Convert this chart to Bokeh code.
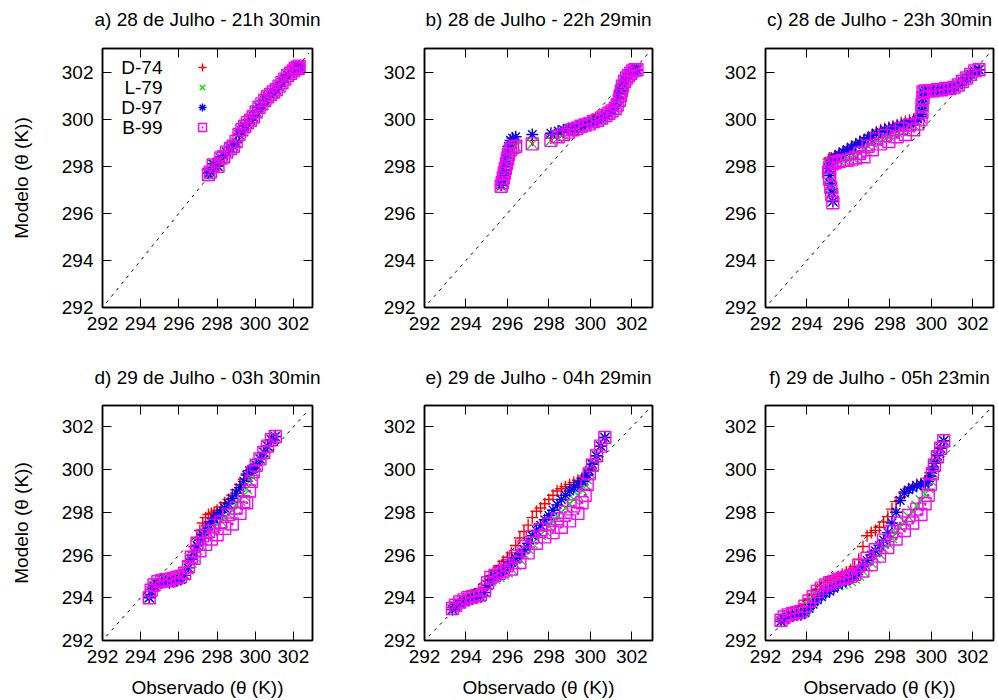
from bokeh.plotting import figure
from bokeh.layouts import row, column
from bokeh.models import LinearAxis, FixedTicker, Legend, LegendItem, Label, Range1d
from bokeh.core.properties import value
from bokeh.embed import file_html
from bokeh.resources import INLINE

FONT = "Liberation Sans"

# ---------------- data ----------------
tick_vals = [292, 294, 296, 298, 300, 302]
axis_range = [292, 303]
diag = [292.2, 302.8]

series_names = ["D-74", "L-79", "D-97", "B-99"]
series_markers = ["cross", "x", "asterisk", "square_dot"]
series_colors = ["#ff0000", "#00e600", "#0000ff", "#ff00ff"]
series_sizes = [12, 15, 12, 12]

titles = ["a) 28 de Julho - 21h 30min", "b) 28 de Julho - 22h 29min",
          "c) 28 de Julho - 23h 30min", "d) 29 de Julho - 03h 30min",
          "e) 29 de Julho - 04h 29min", "f) 29 de Julho - 05h 23min"]

# panel a
obs_a = [297.55, 297.65, 297.8, 298.05, 298.2, 298.35, 298.5, 298.7, 298.85, 299.0,
         299.15, 299.3, 299.45, 299.6, 299.75, 299.9, 300.05, 300.2, 300.35, 300.5,
         300.65, 300.8, 300.95, 301.1, 301.25, 301.4, 301.55, 301.7, 301.85, 302.0,
         302.1, 302.2, 302.25, 302.3]
d74_a = [297.7, 297.8, 298.1, 298.05, 298.4, 298.45, 298.65, 298.8, 298.9, 299.05,
         299.4, 299.55, 299.75, 299.85, 300.0, 300.15, 300.35, 300.55, 300.65, 300.85,
         301.0, 301.1, 301.15, 301.3, 301.45, 301.6, 301.75, 301.9, 302.0, 302.1,
         302.15, 302.2, 302.2, 302.25]
l79_a = [297.65, 297.75, 298.05, 298.0, 298.35, 298.4, 298.6, 298.75, 298.85, 299.0,
         299.35, 299.5, 299.7, 299.8, 299.95, 300.1, 300.3, 300.5, 300.6, 300.8,
         300.95, 301.05, 301.1, 301.25, 301.4, 301.55, 301.7, 301.85, 301.95, 302.05,
         302.1, 302.2, 302.15, 302.25]
d97_a = [297.7, 297.75, 298.1, 298.0, 298.35, 298.45, 298.6, 298.8, 298.85, 299.0,
         299.35, 299.5, 299.7, 299.8, 299.95, 300.1, 300.3, 300.5, 300.6, 300.8,
         300.95, 301.05, 301.1, 301.25, 301.4, 301.55, 301.7, 301.85, 301.95, 302.05,
         302.1, 302.2, 302.15, 302.25]
b99_a = [297.65, 297.75, 298.05, 298.0, 298.35, 298.4, 298.6, 298.75, 298.85, 299.05,
         299.35, 299.55, 299.7, 299.85, 299.95, 300.1, 300.3, 300.5, 300.65, 300.8,
         300.95, 301.05, 301.15, 301.25, 301.4, 301.55, 301.7, 301.85, 301.95, 302.05,
         302.15, 302.2, 302.15, 302.25]

# panel b
obs_b = [295.7, 295.75, 295.8, 295.85, 295.9, 295.95, 296.0, 296.05, 296.15, 296.25,
         296.4, 297.2, 298.1, 298.45, 298.7, 298.95, 299.15, 299.35, 299.55, 299.75,
         299.95, 300.15, 300.35, 300.55, 300.75, 300.9, 301.05, 301.2, 301.3, 301.4,
         301.45, 301.5, 301.55, 301.65, 301.75, 301.85, 301.95, 302.05, 302.15, 302.25]
d74_b = [297.2, 297.35, 297.55, 297.8, 298.0, 298.25, 298.45, 298.65, 298.85, 298.95,
         299.0, 299.1, 299.2, 299.35, 299.45, 299.55, 299.6, 299.7, 299.75, 299.85,
         299.9, 300.0, 300.1, 300.2, 300.3, 300.35, 300.45, 300.55, 300.7, 300.9,
         301.1, 301.3, 301.45, 301.6, 301.75, 301.85, 301.95, 302.05, 302.1, 302.1]
l79_b = [297.15, 297.3, 297.5, 297.7, 297.9, 298.1, 298.3, 298.5, 298.7, 298.8,
         298.85, 298.95, 299.1, 299.2, 299.35, 299.45, 299.5, 299.6, 299.65, 299.75,
         299.8, 299.85, 299.95, 300.0, 300.1, 300.2, 300.3, 300.45, 300.6, 300.8,
         301.0, 301.2, 301.4, 301.6, 301.75, 301.85, 301.95, 302.05, 302.1, 302.1]
d97_b = [297.2, 297.4, 297.6, 297.85, 298.1, 298.35, 298.6, 298.85, 299.1, 299.2,
         299.25, 299.35, 299.4, 299.5, 299.55, 299.6, 299.65, 299.7, 299.75, 299.8,
         299.85, 299.9, 300.0, 300.05, 300.15, 300.25, 300.4, 300.6, 300.85, 301.05,
         301.2, 301.35, 301.5, 301.65, 301.8, 301.9, 301.95, 302.05, 302.1, 302.1]
b99_b = [297.15, 297.3, 297.5, 297.7, 297.9, 298.1, 298.3, 298.5, 298.7, 298.8,
         298.85, 298.95, 299.1, 299.25, 299.35, 299.45, 299.55, 299.6, 299.7, 299.75,
         299.8, 299.9, 299.95, 300.05, 300.15, 300.25, 300.35, 300.45, 300.6, 300.8,
         301.0, 301.2, 301.4, 301.6, 301.75, 301.85, 301.95, 302.05, 302.1, 302.1]

# panel c
obs_c = [295.25, 295.2, 295.15, 295.1, 295.05, 295.1, 295.2, 295.35, 295.55, 295.75,
         295.95, 296.15, 296.35, 296.55, 296.75, 296.95, 297.15, 297.35, 297.55, 297.75,
         297.95, 298.15, 298.35, 298.55, 298.75, 298.95, 299.15, 299.35, 299.5, 299.55,
         299.55, 299.6, 299.6, 299.7, 299.9, 300.1, 300.3, 300.5, 300.7, 300.9,
         301.1, 301.3, 301.5, 301.7, 301.9, 302.1, 302.3]
d74_c = [298.2, 298.15, 298.25, 298.2, 298.3, 298.35, 298.3, 298.45, 298.55, 298.65,
         298.75, 298.85, 298.95, 299.05, 299.1, 299.2, 299.35, 299.45, 299.55, 299.6,
         299.65, 299.7, 299.75, 299.85, 299.9, 299.95, 300.0, 300.1, 300.2, 300.4,
         300.65, 300.9, 301.15, 301.2, 301.2, 301.2, 301.25, 301.25, 301.3, 301.3,
         301.35, 301.45, 301.6, 301.75, 301.9, 302.05, 302.1]
l79_c = [296.5, 296.85, 297.15, 297.5, 297.8, 298.0, 298.1, 298.2, 298.25, 298.3,
         298.35, 298.4, 298.45, 298.55, 298.7, 298.85, 299.0, 299.1, 299.2, 299.25,
         299.3, 299.4, 299.45, 299.5, 299.55, 299.65, 299.75, 299.85, 300.05, 300.3,
         300.6, 300.9, 301.15, 301.2, 301.2, 301.2, 301.25, 301.25, 301.3, 301.3,
         301.35, 301.45, 301.6, 301.75, 301.9, 302.05, 302.1]
d97_c = [296.5, 296.9, 297.25, 297.6, 297.9, 298.1, 298.25, 298.4, 298.5, 298.6,
         298.7, 298.8, 298.9, 299.0, 299.1, 299.2, 299.3, 299.4, 299.45, 299.55,
         299.6, 299.65, 299.7, 299.75, 299.8, 299.85, 299.9, 300.0, 300.1, 300.35,
         300.6, 300.9, 301.15, 301.2, 301.2, 301.2, 301.25, 301.25, 301.3, 301.3,
         301.35, 301.45, 301.6, 301.75, 301.9, 302.05, 302.1]
b99_c = [296.45, 296.8, 297.1, 297.45, 297.75, 297.95, 298.1, 298.15, 298.2, 298.25,
         298.25, 298.3, 298.35, 298.55, 298.4, 298.85, 298.7, 299.15, 298.95, 299.3,
         299.05, 299.45, 299.25, 299.6, 299.35, 299.75, 299.55, 299.8, 300.0, 300.3,
         300.6, 300.9, 301.15, 301.2, 301.2, 301.2, 301.25, 301.25, 301.3, 301.3,
         301.35, 301.45, 301.6, 301.75, 301.9, 302.05, 302.1]

# panel d
obs_d = [294.45, 294.55, 294.7, 294.9, 295.1, 295.3, 295.5, 295.7, 295.9, 296.1,
         296.3, 296.5, 296.65, 296.8, 296.95, 297.1, 297.25, 297.4, 297.55, 297.7,
         297.85, 298.0, 298.2, 298.4, 298.6, 298.8, 299.0, 299.2, 299.4, 299.55,
         299.7, 299.8, 299.9, 300.05, 300.25, 300.45, 300.65, 300.85, 301.05]
d74_d = [294.05, 294.4, 294.65, 294.8, 294.85, 294.9, 294.85, 294.95, 295.0, 295.1,
         295.3, 295.7, 296.0, 296.4, 296.8, 297.15, 297.5, 297.75, 297.9, 297.95,
         298.0, 298.1, 298.25, 298.45, 298.6, 298.8, 299.05, 299.3, 299.55, 299.8,
         299.95, 300.0, 300.05, 300.2, 300.5, 300.8, 301.1, 301.4, 301.55]
l79_d = [294.0, 294.3, 294.55, 294.7, 294.75, 294.8, 294.75, 294.8, 294.85, 294.9,
         295.05, 295.35, 295.65, 295.95, 296.25, 296.5, 296.7, 296.9, 297.05, 297.2,
         297.3, 297.45, 297.6, 297.75, 297.9, 298.1, 298.35, 298.55, 298.8, 299.1,
         299.45, 299.7, 299.95, 300.2, 300.5, 300.8, 301.1, 301.4, 301.55]
d97_d = [294.0, 294.3, 294.55, 294.65, 294.7, 294.75, 294.7, 294.75, 294.8, 294.85,
         295.05, 295.4, 295.8, 296.15, 296.45, 296.7, 296.95, 297.2, 297.4, 297.55,
         297.7, 297.85, 298.0, 298.2, 298.4, 298.65, 298.9, 299.15, 299.45, 299.75,
         299.95, 300.0, 300.05, 300.2, 300.5, 300.8, 301.1, 301.4, 301.55]
b99_d = [294.0, 294.35, 294.6, 294.75, 294.8, 294.85, 294.8, 294.9, 294.95, 295.0,
         295.15, 295.45, 295.9, 295.85, 296.55, 296.2, 296.9, 296.5, 297.1, 296.75,
         297.4, 296.95, 297.55, 297.25, 297.9, 297.45, 298.2, 297.95, 298.5, 298.45,
         299.0, 299.45, 299.9, 300.2, 300.5, 300.8, 301.1, 301.4, 301.55]

# panel e
obs_e = [293.35, 293.5, 293.7, 293.9, 294.1, 294.3, 294.5, 294.7, 294.9, 295.05,
         295.2, 295.4, 295.6, 295.8, 296.0, 296.2, 296.4, 296.6, 296.8, 297.0,
         297.2, 297.4, 297.6, 297.8, 298.0, 298.2, 298.4, 298.6, 298.8, 299.0,
         299.2, 299.4, 299.6, 299.75, 299.85, 299.95, 300.1, 300.3, 300.5, 300.7]
d74_e = [293.55, 293.7, 293.85, 293.95, 294.05, 294.1, 294.15, 294.25, 294.5, 294.8,
         295.05, 295.25, 295.5, 295.7, 295.9, 296.1, 296.45, 296.8, 297.1, 297.4,
         297.75, 298.05, 298.2, 298.4, 298.6, 298.8, 299.0, 299.1, 299.2, 299.3,
         299.4, 299.5, 299.6, 299.7, 299.8, 300.0, 300.25, 300.65, 301.1, 301.5]
l79_e = [293.45, 293.6, 293.75, 293.85, 293.9, 293.95, 294.0, 294.05, 294.25, 294.6,
         294.8, 294.9, 295.0, 295.1, 295.2, 295.35, 295.55, 295.8, 296.05, 296.3,
         296.55, 296.75, 296.95, 297.15, 297.35, 297.6, 297.8, 298.0, 298.2, 298.4,
         298.6, 298.8, 299.05, 299.3, 299.55, 299.85, 300.2, 300.65, 301.1, 301.5]
d97_e = [293.45, 293.6, 293.75, 293.85, 293.9, 293.95, 294.0, 294.05, 294.25, 294.6,
         294.85, 295.0, 295.15, 295.3, 295.5, 295.65, 295.85, 296.05, 296.25, 296.55,
         296.9, 297.15, 297.4, 297.65, 297.85, 298.1, 298.35, 298.6, 298.8, 299.0,
         299.15, 299.3, 299.45, 299.6, 299.75, 299.95, 300.25, 300.65, 301.1, 301.5]
b99_e = [293.5, 293.65, 293.8, 293.9, 294.0, 294.05, 294.1, 294.15, 294.35, 294.7,
         294.95, 295.05, 295.15, 295.25, 295.5, 295.35, 295.95, 295.65, 296.4, 296.1,
         296.85, 296.55, 297.2, 296.85, 297.45, 297.05, 297.7, 297.3, 298.0, 297.6,
         298.3, 297.95, 298.45, 298.8, 299.3, 299.8, 300.2, 300.65, 301.1, 301.5]

# panel f
obs_f = [292.75, 292.9, 293.1, 293.3, 293.5, 293.7, 293.9, 294.1, 294.3, 294.5,
         294.7, 294.9, 295.1, 295.3, 295.5, 295.7, 295.9, 296.1, 296.3, 296.5,
         296.7, 296.9, 297.1, 297.3, 297.5, 297.7, 297.9, 298.1, 298.3, 298.5,
         298.7, 298.9, 299.1, 299.3, 299.5, 299.7, 299.85, 299.95, 300.05, 300.15,
         300.3, 300.45, 300.6]
d74_f = [293.0, 293.15, 293.25, 293.3, 293.35, 293.45, 293.7, 293.95, 294.15, 294.4,
         294.55, 294.7, 294.8, 294.9, 295.0, 295.1, 295.2, 295.3, 295.45, 295.8,
         296.4, 296.9, 297.05, 297.15, 297.3, 297.55, 297.8, 298.15, 298.5, 298.7,
         298.95, 299.1, 299.2, 299.3, 299.35, 299.45, 299.6, 299.85, 300.1, 300.4,
         300.7, 301.05, 301.35]
l79_f = [292.9, 293.0, 293.1, 293.15, 293.2, 293.25, 293.4, 293.6, 293.85, 294.1,
         294.25, 294.4, 294.5, 294.55, 294.6, 294.65, 294.7, 294.8, 294.9, 295.05,
         295.25, 295.45, 295.65, 295.85, 296.05, 296.3, 296.55, 296.8, 297.05, 297.3,
         297.55, 297.8, 298.05, 298.3, 298.55, 298.85, 299.15, 299.5, 299.85, 300.2,
         300.6, 301.0, 301.35]
d97_f = [292.9, 293.0, 293.1, 293.15, 293.2, 293.2, 293.3, 293.5, 293.7, 293.9,
         294.05, 294.2, 294.3, 294.45, 294.6, 294.7, 294.8, 294.9, 295.05, 295.25,
         295.5, 295.75, 296.0, 296.2, 296.45, 296.7, 297.05, 297.5, 298.0, 298.55,
         298.9, 299.05, 299.15, 299.25, 299.3, 299.35, 299.45, 299.7, 300.0, 300.3,
         300.65, 301.0, 301.35]
b99_f = [292.95, 293.1, 293.2, 293.25, 293.3, 293.35, 293.6, 293.85, 294.05, 294.3,
         294.45, 294.6, 294.7, 294.75, 294.85, 294.9, 294.95, 295.0, 295.1, 295.5,
         295.25, 295.85, 295.55, 296.25, 295.95, 296.7, 296.35, 297.1, 296.75, 297.5,
         297.15, 297.85, 297.5, 298.15, 297.9, 298.4, 298.8, 299.3, 299.8, 300.2,
         300.6, 301.0, 301.35]

panels = [
    (obs_a, [d74_a, l79_a, d97_a, b99_a]),
    (obs_b, [d74_b, l79_b, d97_b, b99_b]),
    (obs_c, [d74_c, l79_c, d97_c, b99_c]),
    (obs_d, [d74_d, l79_d, d97_d, b99_d]),
    (obs_e, [d74_e, l79_e, d97_e, b99_e]),
    (obs_f, [d74_f, l79_f, d97_f, b99_f]),
]

# ---------------- layout / style ----------------
PAGE_W = 998
TITLE_H = 40
# (width, main height, border_left, border_right, border_top, border_bottom)
geom = [
    (330, 310, 102, 18, 8, 43),
    (330, 310, 94, 8, 8, 43),
    (338, 310, 105, 5, 8, 43),
    (330, 310, 102, 18, 15, 60),
    (330, 310, 94, 8, 15, 60),
    (338, 310, 105, 5, 15, 60),
]
# title centre measured up from the bottom of each title strip
title_y = [21, 21, 21, 13, 13, 13]
FS = "19px"


def style_axis(ax, labels=True):
    ax.ticker = FixedTicker(ticks=tick_vals)
    ax.major_tick_in = 9
    ax.major_tick_out = 0
    ax.minor_tick_line_color = None
    ax.axis_line_color = "black"
    ax.axis_line_width = 1.5
    ax.major_tick_line_color = "black"
    ax.major_tick_line_width = 1
    ax.major_label_text_font = FONT
    ax.major_label_text_color = "black"
    ax.axis_label_text_font = FONT
    ax.axis_label_text_font_style = "normal"
    ax.axis_label_text_font_size = FS
    ax.axis_label_text_color = "black"
    if labels:
        ax.major_label_text_font_size = FS
        ax.major_label_standoff = 9
    else:
        ax.major_label_overrides = {t: "" for t in tick_vals}
        ax.major_label_text_font_size = "1px"
        ax.major_label_standoff = 0


def title_strip():
    t = figure(width=PAGE_W, height=TITLE_H, title=None, x_range=Range1d(0, 1),
               y_range=Range1d(0, 1), output_backend="svg",
               toolbar_location=None, x_axis_location=None,
               y_axis_location=None, min_border=0)
    t.outline_line_color = None
    t.grid.visible = False
    t.background_fill_color = "white"
    t.border_fill_color = "white"
    return t


strips = [title_strip(), title_strip()]
figs = []
x0 = 0
for i in range(6):
    w, h, bl, br, bt, bb = geom[i]
    if i % 3 == 0:
        x0 = 0
    fw = w - bl - br
    obs, ys = panels[i]

    strips[i // 3].add_layout(Label(x=x0 + bl + fw / 2, y=title_y[i],
                                    x_units="screen", y_units="screen",
                                    text=titles[i], text_align="center",
                                    text_baseline="middle", text_font=FONT,
                                    text_font_size=FS, text_color="black"))
    x0 += w

    p = figure(width=w, height=h, title=None,
               x_range=Range1d(axis_range[0], axis_range[1]),
               y_range=Range1d(axis_range[0], axis_range[1]),
               output_backend="svg", toolbar_location=None,
               min_border_left=bl, min_border_right=br,
               min_border_top=bt, min_border_bottom=bb)
    p.background_fill_color = "white"
    p.border_fill_color = "white"
    p.grid.visible = False
    p.outline_line_color = "black"
    p.outline_line_width = 1.5

    bottom_ax = p.below[0]
    left_ax = p.left[0]
    style_axis(bottom_ax, True)
    style_axis(left_ax, True)
    top_ax = LinearAxis()
    right_ax = LinearAxis()
    style_axis(top_ax, False)
    style_axis(right_ax, False)
    p.add_layout(top_ax, "above")
    p.add_layout(right_ax, "right")

    if i in (0, 3):
        left_ax.axis_label = "Modelo (\u03b8 (K))"
        left_ax.axis_label_standoff = 27
    if i >= 3:
        bottom_ax.axis_label = "Observado (\u03b8 (K))"
        bottom_ax.axis_label_standoff = 11

    rends = []
    for y, m, c, s in zip(ys, series_markers, series_colors, series_sizes):
        r = p.scatter(obs, y, marker=m, size=s, line_color=c,
                      fill_color=None, line_width=1.4)
        rends.append(r)

    p.line(diag, diag, line_color="black", line_dash="3 5", line_width=1)

    if i == 0:
        items = [LegendItem(label=value(""), renderers=[r]) for r in rends]
        leg = Legend(items=items, location=(90, 170), glyph_width=20,
                     glyph_height=20, label_width=0, label_height=20,
                     label_standoff=0, padding=0, margin=0, spacing=0,
                     border_line_color=None, background_fill_alpha=0,
                     label_text_font_size="10px")
        p.add_layout(leg)
        for k, name in enumerate(series_names):
            p.add_layout(Label(x=60, y=240 - 20 * k, x_units="screen",
                               y_units="screen", text=name, text_align="right",
                               text_baseline="middle", text_font=FONT,
                               text_font_size=FS, text_color="black"))
    figs.append(p)

layout = column(strips[0], row(figs[0], figs[1], figs[2]),
                strips[1], row(figs[3], figs[4], figs[5]))
open("out.html", "w").write(file_html(layout, INLINE))
